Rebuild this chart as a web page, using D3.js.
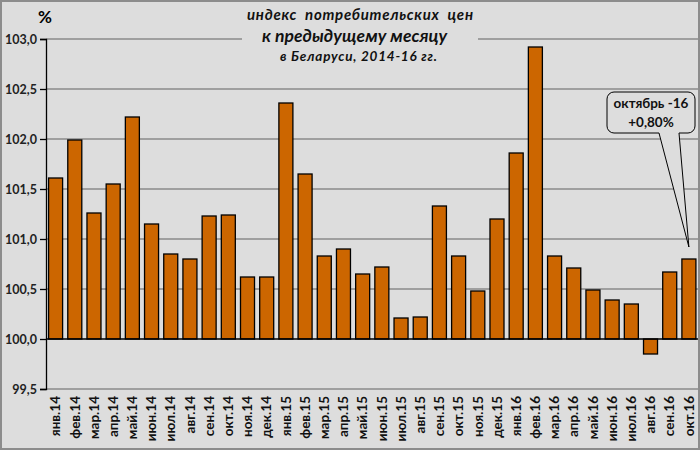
<!DOCTYPE html>
<html><head><meta charset="utf-8">
<script src="https://cdn.jsdelivr.net/npm/d3@7"></script>
<style>body{margin:0;background:#fff}svg{display:block}text{white-space:pre}</style>
</head><body><svg id="c" width="700" height="450"></svg>
<script>
const categories = ["янв.14","фев.14","мар.14","апр.14","май.14","июн.14","июл.14","авг.14","сен.14","окт.14","ноя.14","дек.14",
"янв.15","фев.15","мар.15","апр.15","май.15","июн.15","июл.15","авг.15","сен.15","окт.15","ноя.15","дек.15",
"янв.16","фев.16","мар.16","апр.16","май.16","июн.16","июл.16","авг.16","сен.16","окт.16"];
const values = [101.61,101.99,101.26,101.55,102.22,101.15,100.85,100.80,101.23,101.24,100.62,100.62,
102.36,101.65,100.83,100.90,100.65,100.72,100.21,100.22,101.33,100.83,100.48,101.20,
101.86,102.92,100.83,100.71,100.49,100.39,100.35,99.85,100.67,100.80];
const yTicks = [99.5,100.0,100.5,101.0,101.5,102.0,102.5,103.0];
const titleLines = ["индекс  потребительских  цен","к предыдущему месяцу","в Беларуси, 2014-16 гг."];
const calloutLines = ["октябрь -16","+0,80%"];
const calloutIndex = 33;

const svg = d3.select("#c");
const font = "Lato, 'Open Sans', sans-serif";
svg.append("rect").attr("x",1).attr("y",1).attr("width",698).attr("height",448)
  .attr("fill","#dddddd").attr("stroke","#8c8c8c").attr("stroke-width",2);

const x = d3.scaleBand().domain(categories).range([46,698.5]).paddingInner(0.27).paddingOuter(0.135);
const y = d3.scaleLinear().domain([99.5,103]).range([389,39]);
const fmt = v => d3.format(".1f")(v).replace(".",",");

// gridlines
svg.append("g").selectAll("line").data(yTicks.filter(t=>t!==100)).join("line")
  .attr("x1",46).attr("x2",698).attr("y1",d=>y(d)).attr("y2",d=>y(d))
  .attr("stroke","#8a8a8a").attr("stroke-width",1.3);

// y axis
const ya = d3.axisLeft(y).tickValues(yTicks).tickFormat(fmt).tickSize(6).tickPadding(3);
const yg = svg.append("g").attr("transform","translate(46,0)").call(ya);
yg.select(".domain").attr("stroke","#000").attr("stroke-width",1.3);
yg.selectAll(".tick line").attr("stroke","#000").attr("stroke-width",1.3);
yg.selectAll("text").attr("font-family",font).attr("font-size",12.5).attr("font-weight","bold").attr("fill","#222");

// bars
svg.append("g").selectAll("rect").data(values).join("rect")
  .attr("x",(d,i)=>x(categories[i]))
  .attr("width",x.bandwidth())
  .attr("y",d=>y(Math.max(d,100)))
  .attr("height",d=>Math.abs(y(d)-y(100)))
  .attr("fill","#cc6600").attr("stroke","#000").attr("stroke-width",1.3);

// baseline axis at 100
const xa = d3.axisBottom(x).tickSize(0).tickPadding(0);
svg.append("line").attr("x1",46).attr("x2",698).attr("y1",y(100)).attr("y2",y(100)).attr("stroke","#000").attr("stroke-width",1.3);
const xg = svg.append("g").attr("transform","translate(0,389)").call(xa);
xg.select(".domain").remove();
xg.selectAll("text").attr("font-family",font).attr("font-size",13.5).attr("font-weight","bold").attr("fill","#111")
  .attr("text-anchor","end").attr("dy","0.35em").attr("transform","translate(0,7) rotate(-90)").attr("x",0).attr("y",0);

// % label
svg.append("text").attr("x",45).attr("y",23).attr("text-anchor","middle").attr("font-family",font)
  .attr("font-weight","bold").attr("font-size",17).text("%");

// title
svg.append("rect").attr("x",242).attr("y",4).attr("width",236).attr("height",64).attr("fill","#dddddd");
const tSizes=[15,17.5,13.5], tY=[20,42,61], tX=[360,354.5,358.5], tW=[226,185,157];
titleLines.forEach((t,i)=>svg.append("text").attr("x",tX[i]).attr("y",tY[i]).attr("text-anchor","middle")
  .attr("xml:space","preserve")
  .attr("font-family",font).attr("font-style","italic").attr("font-weight","bold").attr("font-size",tSizes[i])
  .attr("textLength",tW[i]).attr("lengthAdjust","spacing")
  .attr("fill","#111").text(t));

// callout
const tipX = x(categories[calloutIndex]) + x.bandwidth()/2, tipY = y(values[calloutIndex]) - 12;
const bx=607, by=92, bw=88, bh=41, r=7;
const path = d3.path();
path.moveTo(bx+r,by); path.lineTo(bx+bw-r,by); path.arcTo(bx+bw,by,bx+bw,by+r,r);
path.lineTo(bx+bw,by+bh-r); path.arcTo(bx+bw,by+bh,bx+bw-r,by+bh,r);
path.lineTo(679,by+bh); path.lineTo(tipX,tipY); path.lineTo(659,by+bh);
path.lineTo(bx+r,by+bh); path.arcTo(bx,by+bh,bx,by+bh-r,r);
path.lineTo(bx,by+r); path.arcTo(bx,by,bx+r,by,r); path.closePath();
svg.append("path").attr("d",path.toString()).attr("fill","#dddddd").attr("stroke","#000").attr("stroke-width",1);
calloutLines.forEach((t,i)=>svg.append("text").attr("x",bx+bw/2).attr("y",by+16+i*19).attr("text-anchor","middle")
  .attr("font-family",font).attr("font-weight","bold").attr("font-size",13.5).attr("fill","#111").text(t));
</script></body></html>
